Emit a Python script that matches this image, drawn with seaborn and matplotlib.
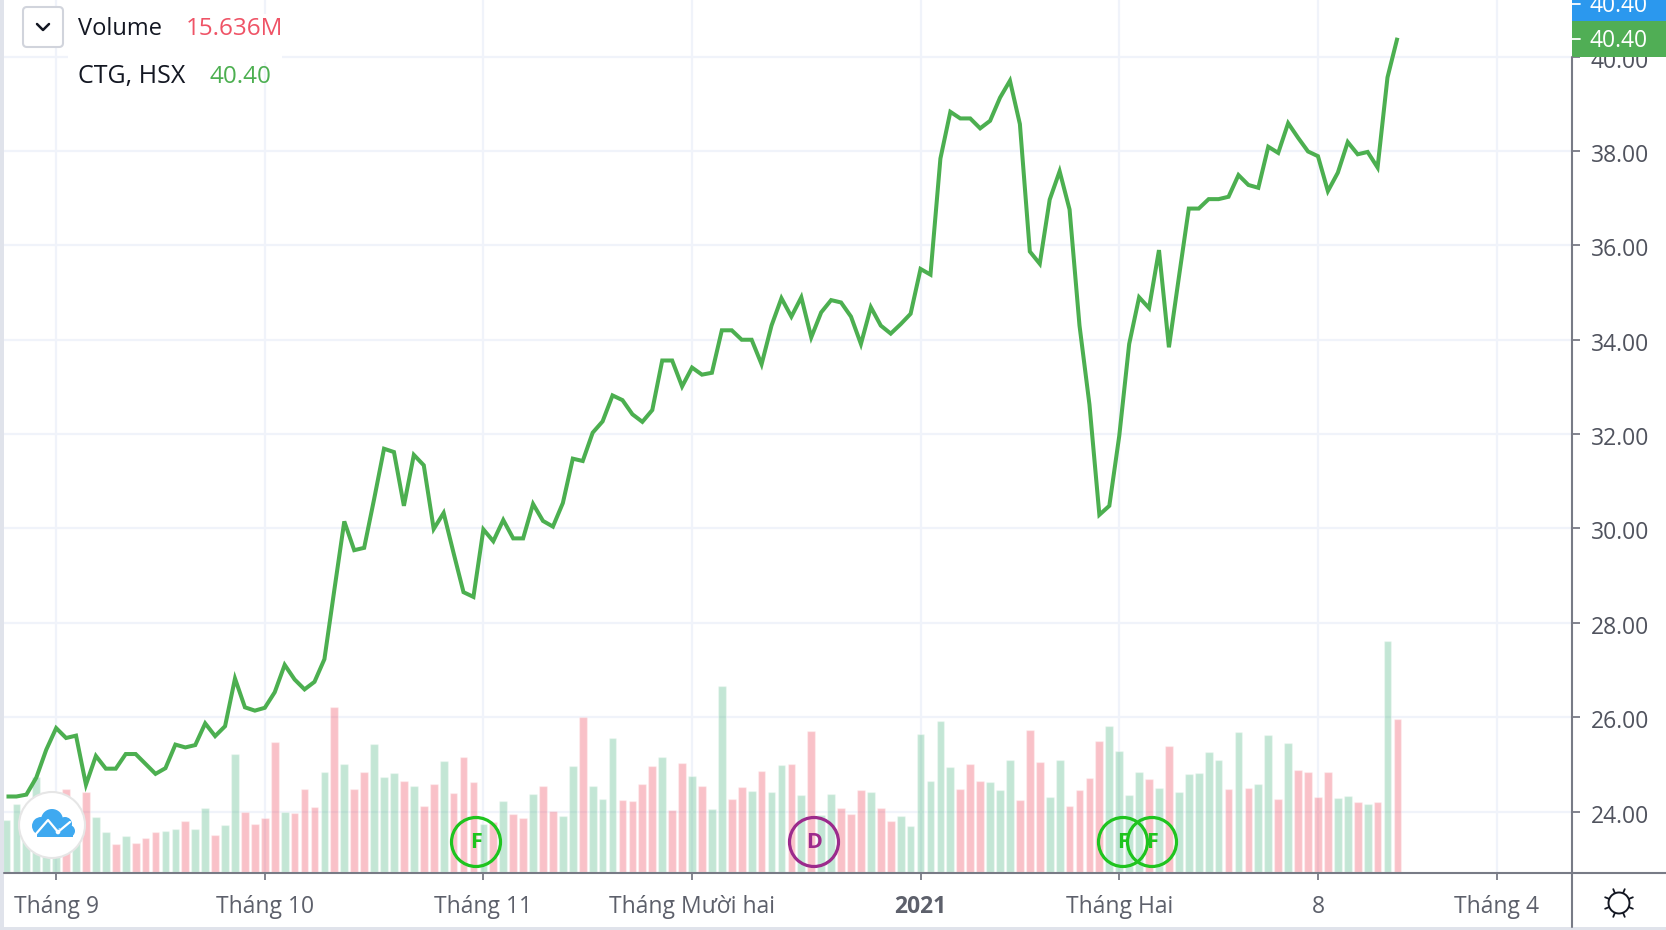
import numpy as np
import pandas as pd
import matplotlib
matplotlib.use('Agg')
import matplotlib.pyplot as plt
import matplotlib.patches as patches
from matplotlib.transforms import Bbox, ScaledTranslation
import seaborn as sns

# closing price per session
close = [24.32,24.32,24.36,24.72,25.31,25.77,25.56,25.61,24.57,25.18,
         24.91,24.91,25.22,25.22,25.01,24.80,24.92,25.42,25.36,25.41,
         25.87,25.60,25.81,26.82,26.21,26.14,26.20,26.53,27.11,26.80,
         26.59,26.75,27.23,28.70,30.15,29.54,29.59,30.62,31.69,31.62,
         30.48,31.56,31.34,29.99,30.33,29.48,28.65,28.55,29.98,29.73,
         30.18,29.79,29.79,30.52,30.16,30.04,30.54,31.48,31.43,32.03,
         32.27,32.82,32.72,32.42,32.26,32.51,33.56,33.56,33.01,33.41,
         33.26,33.30,34.20,34.20,34.00,34.00,33.48,34.30,34.88,34.49,
         34.90,34.05,34.58,34.84,34.79,34.49,33.91,34.69,34.30,34.13,
         34.33,34.55,35.50,35.38,37.84,38.83,38.69,38.69,38.48,38.64,
         39.13,39.49,38.57,35.87,35.61,36.97,37.57,36.76,34.30,32.63,
         30.29,30.48,31.96,33.91,34.90,34.67,35.90,33.84,35.32,36.78,
         36.78,36.98,36.98,37.03,37.49,37.28,37.22,38.09,37.96,38.59,
         38.28,37.99,37.89,37.15,37.54,38.19,37.93,37.98,37.65,39.56,
         40.40]

# volume in millions
volume = [5.29,6.93,5.63,9.73,6.66,5.29,8.47,5.29,8.16,5.60,
          4.06,2.83,3.65,2.94,3.45,4.06,4.17,4.37,5.19,4.37,
          6.52,3.76,4.78,12.05,6.11,4.88,5.50,13.28,6.11,6.01,
          8.47,6.62,10.21,16.87,11.03,8.47,10.21,13.08,9.70,10.11,
          9.29,8.77,6.73,8.98,11.33,8.06,11.74,9.18,4.95,5.09,
          7.24,5.91,5.50,7.95,8.77,6.21,5.70,10.82,15.84,8.77,
          7.44,13.69,7.34,7.24,8.98,10.82,11.74,6.32,11.13,9.80,
          8.77,6.42,19.02,7.44,8.67,8.26,10.31,8.16,10.92,11.03,
          7.85,14.41,5.80,7.95,6.52,5.91,8.36,8.16,6.52,5.19,
          5.70,4.68,14.10,9.29,15.43,10.72,8.47,11.03,9.29,9.18,
          8.36,11.44,7.34,14.51,11.23,7.65,11.44,6.73,8.36,9.59,
          13.38,14.92,12.36,7.85,10.21,9.49,8.57,12.87,8.16,10.00,
          10.11,12.26,11.44,8.47,14.30,8.57,8.98,14.00,7.44,13.18,
          10.41,10.21,7.65,10.21,7.54,7.75,7.14,6.93,7.14,23.62,
          15.64]

# u = up session, d = down session, ten per row
direction = list('uuuuuududu'
                 'ududdduudu'
                 'uduuddddud'
                 'ddududduuu'
                 'duddudddud'
                 'uddudduudu'
                 'uudddduddu'
                 'duudduduud'
                 'uduudddudd'
                 'uuuuuudddu'
                 'uuddduuddd'
                 'duuuududuu'
                 'uuududuudu'
                 'dddduududu'
                 'd')

month_pos = [5, 26, 48, 69, 92, 112, 132, 150]
month_labels = ['Tháng 9', 'Tháng 10', 'Tháng 11', 'Tháng Mười hai', '2021', 'Tháng Hai', '8', 'Tháng 4']
price_ticks = [24, 26, 28, 30, 32, 34, 36, 38, 40]

W, H = 1666, 930
FONT = 'Open Sans'
TEXT = '#5d606b'
AXIS = '#787b86'
GRID = '#f0f3fa'
GREEN = '#4caf50'

sns.set_theme(style='white')
plt.rcParams['font.family'] = [FONT, 'DejaVu Sans']

fig = plt.figure(figsize=(W / 100, H / 100), dpi=100, facecolor='white')
rect = [4 / W, 1 - 872 / H, 1568 / W, 872 / H]
xlim = (-0.25, 157.57)
ylim = (22.72, 41.2)

# grid + axis ticks sit at the bottom
ax = fig.add_axes(rect, zorder=1)
ax.set_xlim(xlim)
ax.set_ylim(ylim)
ax.set_xticks(month_pos)
ax.set_xticklabels(month_labels, fontsize=16.5, color=TEXT)
ax.get_xticklabels()[4].set_fontweight('bold')
ax.yaxis.tick_right()
ax.set_yticks(price_ticks)
ax.set_yticklabels(['%.2f' % p for p in price_ticks], fontsize=16.5, color='#50535e')
ax.tick_params(axis='x', length=5.5, width=1.3, color=AXIS, pad=11, bottom=True)
ax.tick_params(axis='y', length=5.5, width=1.3, color=AXIS, pad=8, right=True)
ax.grid(True, color=GRID, linewidth=1.6)
ax.set_axisbelow(True)
for s in ax.spines.values():
    s.set_visible(False)
# trebuchet sits a bit lower than open sans
for lab in ax.get_yticklabels():
    lab.set_transform(lab.get_transform() + ScaledTranslation(0, -2 / 100, fig.dpi_scale_trans))

df = pd.DataFrame({'i': np.arange(len(close)), 'close': close, 'volume': volume, 'dir': direction})

ax_vol = fig.add_axes(rect, zorder=2)
ax_vol.patch.set_alpha(0)
sns.barplot(data=df, x='i', y='volume', hue='dir', palette={'u': '#53b987', 'd': '#ef4e63'},
            native_scale=True, dodge=False, width=0.78, alpha=0.35, saturation=1, legend=False, ax=ax_vol)
ax_vol.set_xlim(xlim)
ax_vol.set_ylim(0, 89.3)
ax_vol.axis('off')

ax_line = fig.add_axes(rect, zorder=3)
ax_line.patch.set_alpha(0)
sns.lineplot(data=df, x='i', y='close', color=GREEN, linewidth=2.9, solid_joinstyle='miter', solid_capstyle='butt', ax=ax_line)
ax_line.set_xlim(xlim)
ax_line.set_ylim(ylim)
ax_line.axis('off')

# overlay in pixels for the tradingview furniture
ov = fig.add_axes([0, 0, 1, 1], zorder=5)
ov.set_xlim(0, W)
ov.set_ylim(H, 0)
ov.axis('off')
ov.patch.set_alpha(0)

ov.add_patch(patches.Rectangle((0, 0), 4, H, color='#e0e3eb', lw=0))
ov.add_patch(patches.Rectangle((0, 927), W, 3, color='#e0e3eb', lw=0))
ov.plot([4, W], [872.5, 872.5], color=AXIS, lw=1.5)
ov.plot([1572.5, 1572.5], [57, 927], color=AXIS, lw=1.5)

# price tags
ov.add_patch(patches.Rectangle((1572, 0), 94, 21, color='#2b98ee', lw=0))
ov.add_patch(patches.Rectangle((1572, 21), 94, 36, color='#50ae55', lw=0))
ov.plot([1572, 1580], [4, 4], color='white', lw=1.3)
ov.plot([1572, 1580], [39, 39], color='white', lw=1.3)
ov.text(1590, 6, '40.40', color='white', fontsize=16.5, va='center', ha='left')
ov.text(1590, 41, '40.40', color='white', fontsize=16.5, va='center', ha='left')

# legend block
ov.add_patch(patches.Rectangle((68, 14), 214, 48, color='white', lw=0))
ov.add_patch(patches.FancyBboxPatch((23, 7), 40, 40, boxstyle='round,pad=0,rounding_size=4',
                                    fc='white', ec='#d1d4dc', lw=1.5))
ov.plot([37, 43, 49], [24, 30, 24], color='#131722', lw=1.8)
ov.text(78, 29, 'Volume', color='#131722', fontsize=17, va='center')
ov.text(186, 29, '15.636M', color='#ef5366', fontsize=17.5, va='center', clip_on=True,
        clip_box=Bbox([[186, H - 50], [281, H - 8]]))
ov.text(78, 77, 'CTG, HSX', color='#131722', fontsize=18, va='center')
ov.text(210, 77, '40.40', color=GREEN, fontsize=17.5, va='center')

# event markers
for cx, letter, col in [(476, 'F', '#1fc41f'), (814, 'D', '#9c2a8c'), (1123, 'F', '#1fc41f'), (1152, 'F', '#1fc41f')]:
    ov.add_patch(patches.Circle((cx, 842), 24.5, fc='none', ec=col, lw=2.3))
    ov.text(cx, 842, letter, color=col, fontsize=15.5, fontweight='bold', ha='center', va='center')

# logo
ov.add_patch(patches.Circle((52, 825), 33, fc='white', ec='#e6e6e6', lw=1.5))
for cx, cy, r in [(41, 826, 9), (52, 820, 11), (65, 824, 7), (69, 831, 6)]:
    ov.add_patch(patches.Circle((cx, cy), r, color='#3fa9f0', lw=0))
ov.add_patch(patches.Rectangle((37, 829), 36, 8, color='#3fa9f0', lw=0))
ov.plot([35, 48, 58, 70], [835, 820, 832, 822], color='white', lw=1.6)
ov.add_patch(patches.Circle((58, 832), 2.3, color='white', lw=0))

# sun icon
ov.add_patch(patches.Circle((1619, 903), 10.5, fc='white', ec='#131722', lw=1.4))
for a in np.arange(0, 360, 45):
    c, s = np.cos(np.radians(a + 22.5)), np.sin(np.radians(a + 22.5))
    ov.plot([1619 + 11 * c, 1619 + 15 * c], [903 + 11 * s, 903 + 15 * s], color='#131722', lw=1.3)

fig.savefig('out.png', dpi=100)
